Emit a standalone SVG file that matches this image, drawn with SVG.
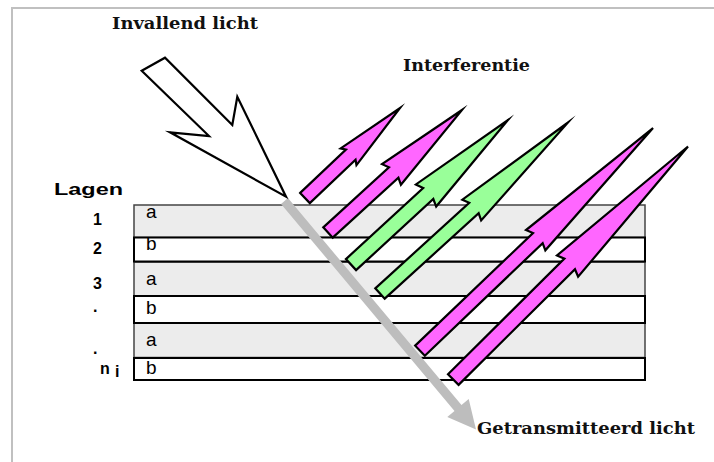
<svg xmlns="http://www.w3.org/2000/svg" width="714" height="462" viewBox="0 0 714 462">
  <style>
    .title { font-family: "DejaVu Serif", "Liberation Serif", serif; font-weight: bold; font-size: 17px; fill: #111; }
    .lbl { font-family: "Liberation Sans", Arial, sans-serif; font-weight: bold; font-size: 16px; fill: #000; }
    .ab { font-family: "Liberation Sans", Arial, sans-serif; font-size: 19px; fill: #000; }
    .layer-a { fill: #ececec; stroke: #444; stroke-width: 1.5; }
    .layer-b { fill: #fff; stroke: #000; stroke-width: 2; }
    .beam { stroke: #000; stroke-width: 2.2; stroke-linejoin: miter; stroke-miterlimit: 10; }
    .pink { fill: #ff66ff; }
    .green { fill: #99ff99; }
  </style>

  <!-- outer frame -->
  <rect x="12" y="8" width="720" height="470" fill="#fff" stroke="#c0c0c0" stroke-width="2"/>

  <!-- stacked thin-film layers -->
  <g id="layers">
    <g id="layer1"><rect class="layer-a" x="134" y="205" width="511" height="32.5"/></g>
    <g id="layer3"><rect class="layer-a" x="134" y="262" width="511" height="34"/></g>
    <g id="layer5"><rect class="layer-a" x="134" y="323" width="511" height="34.5"/></g>
    <g id="layer2"><rect class="layer-b" x="134" y="237.5" width="511" height="24"/></g>
    <g id="layer4"><rect class="layer-b" x="134" y="296" width="511" height="27"/></g>
    <g id="layer6"><rect class="layer-b" x="134" y="358" width="511" height="22"/></g>
  </g>

  <!-- layer material letters -->
  <g id="layer-letters">
    <text class="ab" x="146" y="218">a</text>
    <text class="ab" x="146" y="250">b</text>
    <text class="ab" x="146" y="285">a</text>
    <text class="ab" x="146" y="314">b</text>
    <text class="ab" x="146" y="346">a</text>
    <text class="ab" x="146" y="374">b</text>
  </g>

  <!-- layer numbering -->
  <g id="layer-numbers">
    <text class="lbl" x="54" y="195" font-size="22" textLength="69" lengthAdjust="spacingAndGlyphs">Lagen</text>
    <text class="lbl" x="93" y="225">1</text>
    <text class="lbl" x="93" y="254">2</text>
    <text class="lbl" x="93" y="289">3</text>
    <text class="lbl" x="93" y="312">.</text>
    <text class="lbl" x="93" y="354">.</text>
    <text class="lbl" x="100" y="374">n</text>
    <text class="lbl" x="115" y="377" font-size="15">i</text>
  </g>

  <g id="connectors">
    <!-- transmitted beam -->
    <g id="transmitted">
      <polygon fill="#bdbdbd" points="287.95,198.1 461.5,405.1 468.7,399 476,429.5 447.3,417 454.5,410.9 281.05,203.9"/>
    </g>

    <!-- reflected beams -->
    <g id="reflected-1" transform="translate(305,198) rotate(-43.45)">
      <polygon class="beam pink" points="0,-7 63,-7 60,-11.5 130.9,0 60,11.5 63,7 0,7"/>
    </g>
    <g id="reflected-2" transform="translate(328,232.5) rotate(-42.43)">
      <polygon class="beam pink" points="0,-7 89,-7 86,-14 181.6,0 86,14 89,7 0,7"/>
    </g>
    <g id="reflected-3" transform="translate(351,264.6) rotate(-42.64)">
      <polygon class="beam green" points="0,-7.5 105,-7.5 102,-15 213.4,0 102,15 105,7.5 0,7.5"/>
    </g>
    <g id="reflected-4" transform="translate(380,293.5) rotate(-42.29)">
      <polygon class="beam green" points="0,-7 127,-7 124,-14 254.1,0 124,14 127,7 0,7"/>
    </g>
    <g id="reflected-5" transform="translate(420,350.7) rotate(-43.7)">
      <polygon class="beam pink" points="0,-7 163,-7 160,-14 322.3,0 160,14 163,7 0,7"/>
    </g>
    <g id="reflected-6" transform="translate(453.3,379.5) rotate(-44.79)">
      <polygon class="beam pink" points="0,-7.5 164,-7.5 161,-15 330.7,0 161,15 164,7.5 0,7.5"/>
    </g>

    <!-- incident beam -->
    <g id="incident">
      <polygon class="beam" fill="#fff" points="141.7,70.7 165,57.7 232.3,125 237.3,96.7 286,196.7 170,132.3 209,136"/>
    </g>
  </g>

  <!-- captions -->
  <g id="captions">
    <text class="title" x="112" y="29" textLength="146" lengthAdjust="spacingAndGlyphs">Invallend licht</text>
    <text class="title" x="403" y="71" textLength="127" lengthAdjust="spacingAndGlyphs">Interferentie</text>
    <text class="title" x="477" y="434" textLength="218" lengthAdjust="spacingAndGlyphs">Getransmitteerd licht</text>
  </g>
</svg>
